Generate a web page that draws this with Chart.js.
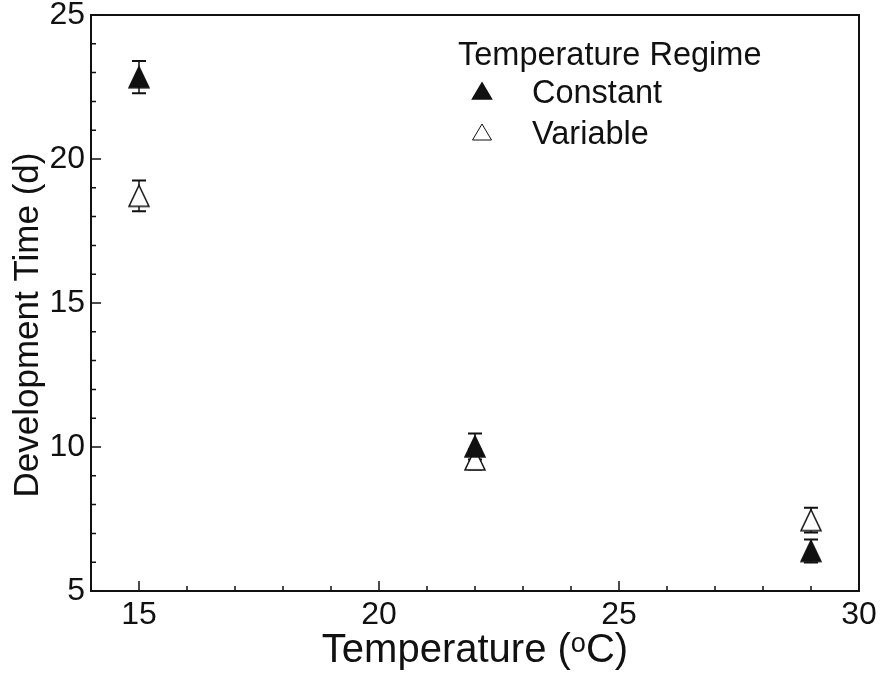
<!DOCTYPE html>
<html><head><meta charset="utf-8">
<script src="https://cdn.jsdelivr.net/npm/chart.js@4/dist/chart.umd.min.js"></script>
<style>html,body{margin:0;padding:0;background:#fff}#wrap{width:884px;height:673px;position:relative}</style>
</head><body><div id="wrap"><canvas id="c"></canvas></div>
<script>
const temperatures = [15, 22, 29];
const constantMeans = [22.84, 10.02, 6.39];
const constantErrors = [0.56, 0.45, 0.40];
const variableMeans = [18.72, 9.57, 7.46];
const variableErrors = [0.53, 0.35, 0.43];
const xTickValues = [15, 20, 25, 30];
const yTickValues = [5, 10, 15, 20, 25];
const seriesNames = ['Constant', 'Variable'];
const legendTitle = 'Temperature Regime';
const xTitle = 'Temperature (\u1D52C)';
const yTitle = 'Development Time (d)';

const FONT = '"Liberation Sans", Arial, Helvetica, "DejaVu Sans", sans-serif';
const INK = '#111';

function drawTri(g, cx, cy, w, h, filled, lw) {
  g.beginPath();
  g.moveTo(cx, cy - h / 2);
  g.lineTo(cx + w / 2, cy + h / 2);
  g.lineTo(cx - w / 2, cy + h / 2);
  g.closePath();
  g.fillStyle = filled ? INK : '#fff';
  g.fill();
  g.lineWidth = lw; g.strokeStyle = INK; g.lineJoin = 'miter';
  g.stroke();
}
function makeTri(filled, w, h, lw) {
  const c = document.createElement('canvas');
  const pad = Math.ceil(lw) + 1;
  c.width = w + 2 * pad; c.height = h + 2 * pad;
  drawTri(c.getContext('2d'), c.width / 2, c.height / 2, w, h, filled, lw);
  return c;
}
const triFilled = makeTri(true, 20, 21, 1.5);
const triOpen = makeTri(false, 20, 21, 1.5);

const toPts = (xs, ys) => xs.map((x, i) => ({x: x, y: ys[i]}));

const frameTicksPlugin = {
  id: 'frameTicks',
  afterDatasetsDraw(chart) {
    const {ctx, chartArea: a, scales: {x, y}} = chart;
    ctx.save();
    ctx.strokeStyle = INK;
    ctx.lineWidth = 2;
    ctx.strokeRect(a.left, a.top, a.right - a.left, a.bottom - a.top);
    ctx.lineWidth = 1.5;
    ctx.beginPath();
    for (let v = Math.ceil(x.min); v <= x.max; v++) {
      const px = x.getPixelForValue(v);
      const len = xTickValues.includes(v) ? 10 : 5;
      ctx.moveTo(px, a.bottom); ctx.lineTo(px, a.bottom - len);
    }
    for (let v = Math.ceil(y.min); v <= y.max; v++) {
      const py = y.getPixelForValue(v);
      const len = yTickValues.includes(v) ? 10 : 5;
      ctx.moveTo(a.left, py); ctx.lineTo(a.left + len, py);
    }
    ctx.stroke();
    // y axis title
    ctx.fillStyle = INK;
    ctx.font = '35px ' + FONT;
    ctx.textAlign = 'center';
    ctx.textBaseline = 'middle';
    ctx.translate(28, (a.top + a.bottom) / 2 + 22);
    ctx.rotate(-Math.PI / 2);
    ctx.fillText(yTitle, 0, 0);
    ctx.restore();
  }
};

const errorBarPlugin = {
  id: 'errorBars',
  beforeDatasetsDraw(chart) {
    const {ctx, scales: {x, y}} = chart;
    ctx.save();
    ctx.strokeStyle = INK;
    chart.data.datasets.forEach(ds => {
      ds.data.forEach((p, i) => {
        const px = x.getPixelForValue(p.x);
        const top = y.getPixelForValue(p.y + ds.errors[i]);
        const bot = y.getPixelForValue(p.y - ds.errors[i]);
        ctx.lineWidth = 1.5;
        ctx.beginPath(); ctx.moveTo(px, top); ctx.lineTo(px, bot); ctx.stroke();
        ctx.lineWidth = 2;
        ctx.beginPath();
        ctx.moveTo(px - 7, top); ctx.lineTo(px + 7, top);
        ctx.moveTo(px - 7, bot); ctx.lineTo(px + 7, bot);
        ctx.stroke();
      });
    });
    ctx.restore();
  }
};

const legendPlugin = {
  id: 'insideLegend',
  afterDraw(chart) {
    const {ctx} = chart;
    ctx.save();
    ctx.fillStyle = INK;
    ctx.font = '32.5px ' + FONT;
    ctx.textBaseline = 'alphabetic';
    ctx.textAlign = 'left';
    ctx.fillText(legendTitle, 458, 65);
    const rows = [{y: 103, filled: true}, {y: 144, filled: false}];
    rows.forEach((r, i) => {
      drawTri(ctx, 482, r.y - 12, 19, 16, r.filled, r.filled ? 1.5 : 1);
      ctx.fillStyle = INK;
      ctx.fillText(seriesNames[i], 532, r.y);
    });
    ctx.restore();
  }
};

new Chart(document.getElementById('c'), {
  type: 'scatter',
  data: {
    datasets: [
      {label: seriesNames[0], data: toPts(temperatures, constantMeans), errors: constantErrors,
       pointStyle: triFilled, pointRadius: 10, backgroundColor: INK, borderColor: INK},
      {label: seriesNames[1], data: toPts(temperatures, variableMeans), errors: variableErrors,
       pointStyle: triOpen, pointRadius: 10, backgroundColor: '#fff', borderColor: INK}
    ]
  },
  options: {
    responsive: true, maintainAspectRatio: false, animation: false,
    layout: {padding: {top: 15, right: 25, left: 0, bottom: 0}},
    plugins: {legend: {display: false}, tooltip: {enabled: false}},
    scales: {
      x: {
        type: 'linear', min: 14, max: 30,
        afterBuildTicks: s => { s.ticks = xTickValues.map(v => ({value: v})); },
        afterFit: s => { s.height = 82; s.paddingLeft = 0; s.paddingRight = 0; },
        grid: {display: false, drawTicks: false},
        border: {display: false},
        ticks: {font: {family: FONT, size: 32}, color: INK, padding: 5, maxRotation: 0, autoSkip: false},
        title: {display: true, text: xTitle, font: {family: FONT, size: 40, lineHeight: 1.1}, color: INK, padding: {top: 0, bottom: 0}}
      },
      y: {
        type: 'linear', min: 5, max: 25,
        afterBuildTicks: s => { s.ticks = yTickValues.map(v => ({value: v})); },
        afterFit: s => { s.width = 91; s.paddingTop = 0; s.paddingBottom = 0; },
        grid: {display: false, drawTicks: false},
        border: {display: false},
        ticks: {font: {family: FONT, size: 32}, color: INK, padding: 6, autoSkip: false},
        title: {display: false, text: yTitle}
      }
    }
  },
  plugins: [errorBarPlugin, frameTicksPlugin, legendPlugin]
});
</script>
</body></html>
